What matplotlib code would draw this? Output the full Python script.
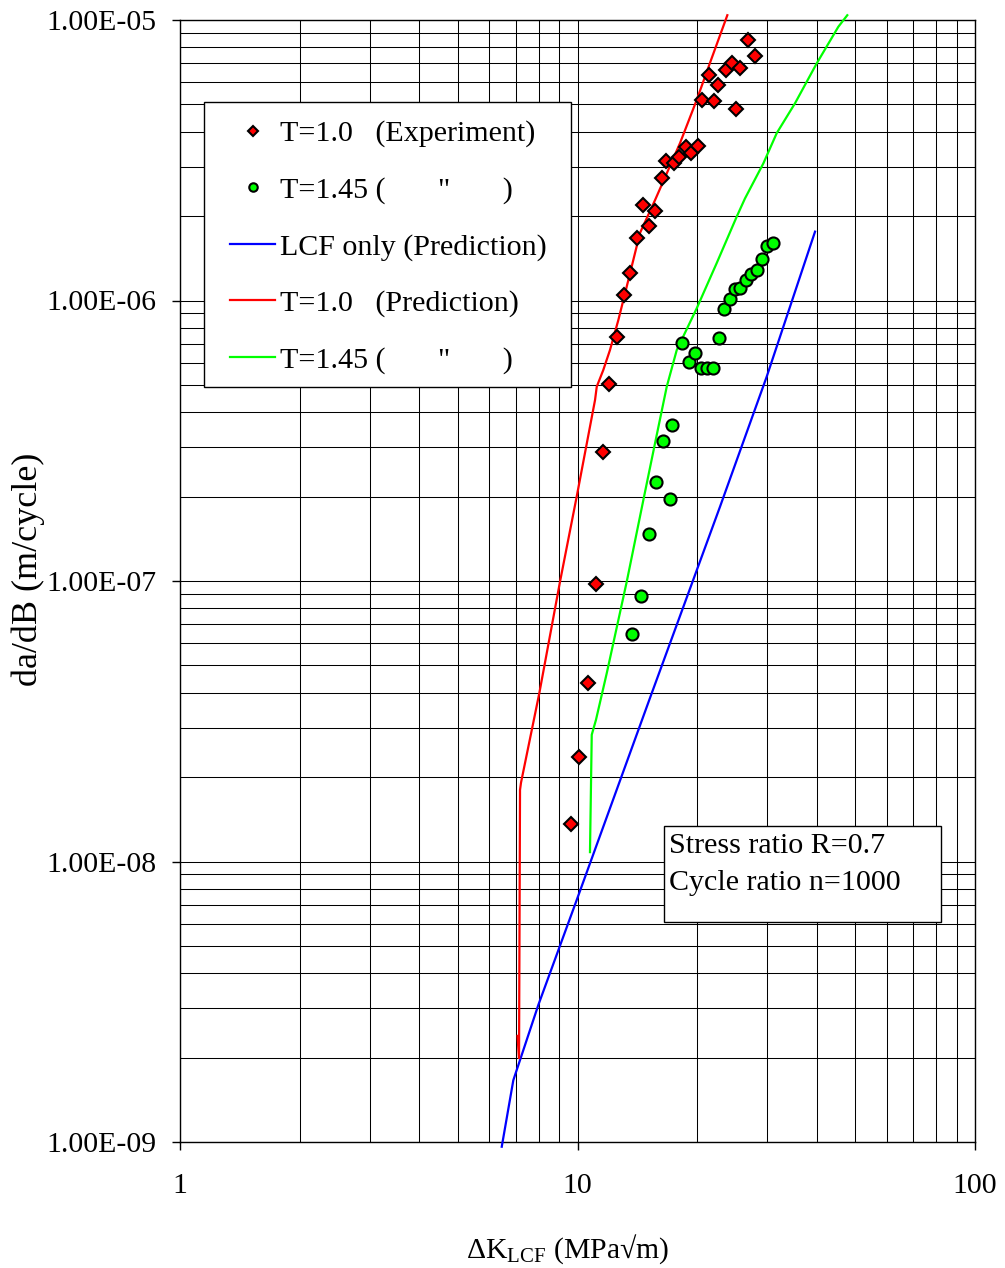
import matplotlib
matplotlib.use("Agg")
import matplotlib.pyplot as plt
from matplotlib.patches import Rectangle
from matplotlib.ticker import LogLocator, FixedLocator, FuncFormatter, NullFormatter

plt.rcParams["font.family"] = ["Liberation Serif", "DejaVu Serif"]
plt.rcParams["mathtext.fontset"] = "custom"
plt.rcParams["mathtext.rm"] = "Liberation Serif"
plt.rcParams["mathtext.it"] = "Liberation Serif:italic"

# --- measured crack growth rates ---
exp_t10_dk = [9.61, 10.10, 10.65, 11.13, 11.61, 12.02, 12.60, 13.12, 13.56, 14.14,
              14.64, 15.16, 15.67, 16.31, 16.70, 17.49, 18.04, 18.72, 19.30, 20.07,
              20.61, 21.46, 22.09, 22.61, 23.64, 24.43, 25.05, 25.64, 26.90, 27.96]
exp_t10_rate = [1.36e-8, 2.36e-8, 4.34e-8, 9.73e-8, 2.89e-7, 5.04e-7, 7.43e-7, 1.05e-6,
                1.25e-6, 1.67e-6, 2.19e-6, 1.85e-6, 2.09e-6, 2.74e-6, 3.14e-6, 3.08e-6,
                3.26e-6, 3.53e-6, 3.36e-6, 3.55e-6, 5.19e-6, 6.38e-6, 5.14e-6, 5.87e-6,
                6.63e-6, 7.01e-6, 4.82e-6, 6.73e-6, 8.49e-6, 7.44e-6]

exp_t145_dk = [13.74, 14.42, 15.13, 15.76, 17.09, 16.44, 17.32, 18.35, 19.05, 19.75,
               20.45, 21.13, 21.96, 22.70, 23.37, 24.19, 24.90, 25.68, 26.54, 27.32,
               28.23, 29.06, 30.03, 31.09]
exp_t145_rate = [6.47e-8, 8.86e-8, 1.47e-7, 2.25e-7, 1.96e-7, 3.15e-7, 3.61e-7, 7.06e-7,
                 6.05e-7, 6.51e-7, 5.76e-7, 5.76e-7, 5.76e-7, 7.37e-7, 9.33e-7, 1.01e-6,
                 1.10e-6, 1.11e-6, 1.18e-6, 1.24e-6, 1.28e-6, 1.41e-6, 1.56e-6, 1.60e-6]

# --- predicted curves ---
lcf_dk = [6.448, 6.895, 7.97, 9.954, 15.22, 22.83, 29.92, 39.59]
lcf_rate = [9.62e-10, 1.66e-9, 3.08e-9, 7.29e-9, 3.83e-8, 1.84e-7, 5.35e-7, 1.76e-6]

pred_t10_dk = [7.066, 7.127, 7.168, 7.209, 8.015, 9.036, 9.954, 11.07, 11.18, 11.61,
               12.07, 12.67, 13.42, 14.36, 15.67, 18.11, 19.95, 21.54, 23.82]
pred_t10_rate = [2.39e-9, 1.99e-9, 1.80e-8, 1.91e-8, 3.98e-8, 9.94e-8, 2.00e-7, 4.42e-7,
                 4.93e-7, 5.65e-7, 6.66e-7, 8.52e-7, 1.18e-6, 1.74e-6, 2.28e-6, 3.64e-6,
                 5.19e-6, 7.03e-6, 1.04e-5]

pred_t145_dk = [10.75, 10.86, 11.13, 11.85, 13.30, 14.64, 15.67, 16.77, 17.77, 19.95,
                22.40, 25.15, 26.38, 29.34, 31.71, 35.26, 39.99, 45.31, 47.72]
pred_t145_rate = [1.08e-8, 2.83e-8, 3.20e-8, 4.70e-8, 9.94e-8, 1.94e-7, 3.10e-7, 4.93e-7,
                  6.66e-7, 9.38e-7, 1.36e-6, 1.99e-6, 2.31e-6, 3.08e-6, 3.95e-6, 5.05e-6,
                  7.01e-6, 9.46e-6, 1.04e-5]

x_ticks = [1, 10, 100]
y_ticks = [1e-9, 1e-8, 1e-7, 1e-6, 1e-5]

FS = 21.6

fig = plt.figure(figsize=(10.05, 12.68), dpi=100)
ax = fig.add_axes([180 / 1005, 1 - 1142 / 1268, 795 / 1005, 1122 / 1268])
ax.set_xscale("log")
ax.set_yscale("log")
ax.set_xlim(1, 100)
ax.set_ylim(1e-9, 1e-5)

# grid: decades and intermediate values
ax.xaxis.set_major_locator(FixedLocator(x_ticks))
ax.yaxis.set_major_locator(FixedLocator(y_ticks))
ax.xaxis.set_minor_locator(LogLocator(base=10, subs=range(2, 10)))
ax.yaxis.set_minor_locator(LogLocator(base=10, subs=range(2, 10)))
ax.xaxis.set_minor_formatter(NullFormatter())
ax.yaxis.set_minor_formatter(NullFormatter())
ax.xaxis.set_major_formatter(FuncFormatter(lambda v, p: f"{v:g}"))
ax.yaxis.set_major_formatter(FuncFormatter(lambda v, p: f"{v:.2E}"))
ax.grid(True, which="both", color="black", linewidth=0.75)
ax.set_axisbelow(True)
ax.tick_params(which="major", direction="out", length=6, width=1, labelsize=21.4, color="black")
ax.tick_params(axis="x", which="major", pad=16)
ax.tick_params(axis="y", which="major", pad=11)
ax.tick_params(which="minor", length=0)
for s in ax.spines.values():
    s.set_linewidth(1)
    s.set_color("black")

ax.plot(lcf_dk, lcf_rate, color="#0000FF", lw=1.6, clip_on=False, zorder=3,
        label="LCF only (Prediction)")
ax.plot(pred_t10_dk, pred_t10_rate, color="#FF0000", lw=1.6, clip_on=False, zorder=3,
        label="T=1.0   (Prediction)")
ax.plot(pred_t145_dk, pred_t145_rate, color="#00FF00", lw=1.6, clip_on=False, zorder=3,
        label='T=1.45 (       "       )')
ax.plot(exp_t10_dk, exp_t10_rate, linestyle="none", marker="D", ms=7.2,
        mfc="#FF0000", mec="black", mew=1.5, zorder=4, label="T=1.0   (Experiment)")
ax.plot(exp_t145_dk, exp_t145_rate, linestyle="none", marker="o", ms=8.7,
        mfc="#00FF00", mec="black", mew=1.5, zorder=4, label='T=1.45 (       "       )')

# legend frame drawn separately so its padding can differ left/right vs top/bottom
ax.add_patch(Rectangle((0.0302, 0.6729), 0.4616, 0.2540, transform=ax.transAxes,
                       facecolor="white", edgecolor="black", lw=1, zorder=5))
handles, labels = ax.get_legend_handles_labels()
order = [3, 4, 0, 1, 2]
leg = ax.legend([handles[i] for i in order], [labels[i] for i in order],
                loc="center left", bbox_to_anchor=(0.0629, 0.7977), borderaxespad=0,
                borderpad=0, fontsize=FS, frameon=False,
                handlelength=1.5, handletextpad=0.17,
                labelspacing=0.975, markerscale=0.7)
leg.set_zorder(6)

# annotation box with test conditions
ax.add_patch(Rectangle((0.609, 0.196), 0.348, 0.0856, transform=ax.transAxes,
                       facecolor="white", edgecolor="black", lw=1, zorder=5))
ax.text(0.615, 0.2638, "Stress ratio R=0.7", transform=ax.transAxes, fontsize=FS,
        va="center", ha="left", zorder=6)
ax.text(0.615, 0.2308, "Cycle ratio n=1000", transform=ax.transAxes, fontsize=FS,
        va="center", ha="left", zorder=6)

ax.set_xlabel("ΔK$_{\\mathrm{LCF}}$ (MPa√m)", fontsize=21.4)
ax.xaxis.set_label_coords(0.487, -0.0805)
ax.set_ylabel("da/dB (m/cycle)", fontsize=26)
ax.yaxis.set_label_coords(-0.17, 0.51)

fig.savefig("out.png", dpi=100, facecolor="white")
